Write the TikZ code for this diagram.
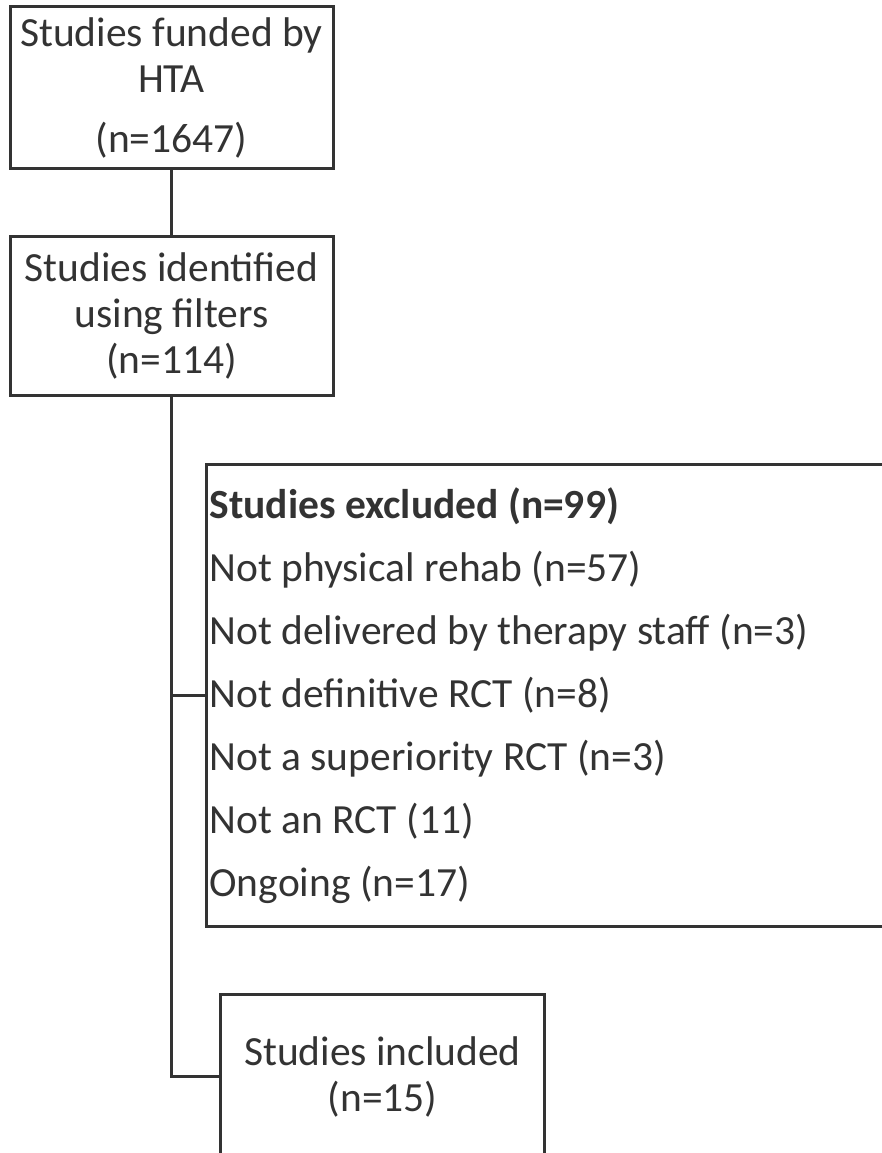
\documentclass[tikz,border=0pt]{standalone}
\usepackage{fontspec}
\setmainfont{Carlito}
\usetikzlibrary{positioning}
\colorlet{ink}{black!80}
\tikzset{
  % boxes of the flow chart
  stage/.style={draw=ink, line width=3pt, text=ink, align=center, inner sep=0pt,
    minimum width=323pt, minimum height=#1},
  stage/.default=160pt,
  link/.style={draw=ink, line width=3pt},
}

\begin{document}
\begin{tikzpicture}[x=1pt, y=-1pt, font=\fontsize{41.5}{46}\selectfont]

  \useasboundingbox (0,0) rectangle (882,1153);
  \clip (0,0) rectangle (882,1153);

  \node [stage=161pt] at (171.5,87.5) (funded) {Studies funded by\\HTA\\[14pt](n=1647)};
  \node [stage=159pt] at (171.5,315.5) (filters) {Studies identified\\using filters\\(n=114)};

  \node [stage=462pt, text width=890pt, align=flush left, anchor=north west, inner xsep=3pt,
    font=\fontsize{41.5}{63}\selectfont] at (205,463) (excluded)
    {\textbf{Studies excluded (n=99)}\\
     Not physical rehab (n=57)\\
     Not delivered by therapy staff (n=3)\\
     Not definitive RCT (n=8)\\
     Not a superiority RCT (n=3)\\
     Not an RCT (11)\\
     Ongoing (n=17)};

  \node [stage=164pt, minimum width=324pt, anchor=north west] at (219,993) (included)
    {Studies included\\(n=15)};

  \draw [link] (funded.south) -- (filters.north);
  \draw [link] (filters.south) |- (included.west);
  \draw [link] (filters.south |- excluded.west) -- (excluded.west);

\end{tikzpicture}
\end{document}
